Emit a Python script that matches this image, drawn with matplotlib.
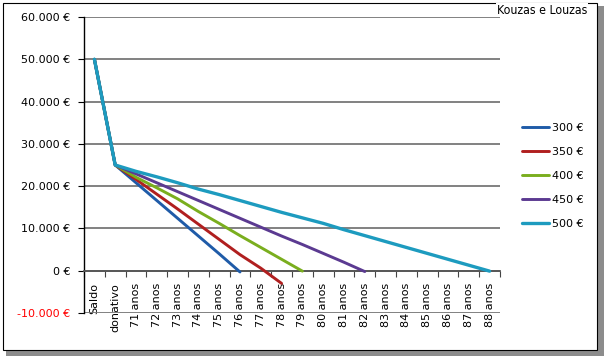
import numpy as np
import matplotlib.pyplot as plt
from matplotlib.patches import Rectangle

# categories on the x axis
cats = ["Saldo", "donativo"] + ["%d anos" % a for a in range(71, 89)]

# balance per monthly amount
s300 = [50000, 25000, 20800, 16600, 12400, 8200, 4000, -300]
s350 = [50000, 25000, 21600, 18100, 14600, 11000, 7400, 3800, 600, -3000]
s400 = [50000, 25000, 22100, 19600, 17000, 14000, 11200, 8300, 5500, 2700, -100]
s450 = [50000, 25000, 22900, 20800, 18700, 16600, 14500, 12400, 10300, 8200,
        6200, 4100, 2000, -200]
s500 = [50000, 25000, 23500, 22200, 20800, 19300, 18000, 16600, 15200, 13800,
        12500, 11200, 9700, 8300, 6900, 5500, 4100, 2700, 1300, -100]

series = [("300 €", s300, "#1f5ba8"), ("350 €", s350, "#b01f1f"),
          ("400 €", s400, "#7aae1e"), ("450 €", s450, "#5b3a91"),
          ("500 €", s500, "#1d9bbf")]

fig = plt.figure(figsize=(6.04, 3.56), dpi=100)
W, H = 604, 356

# frame with shadow
fig.patches.append(Rectangle((6 / W, 0), 598 / W, 350 / H, transform=fig.transFigure,
                             facecolor="#8c8c8c", edgecolor="none", zorder=-3))
fig.patches.append(Rectangle((2.5 / W, 6 / H), 594.5 / W, 347.5 / H, transform=fig.transFigure,
                             facecolor="white", edgecolor="black", lw=0.8, zorder=-2))

ax = fig.add_axes([84 / W, 43 / H, 416 / W, 296 / H])
ax.set_facecolor("none")

x = np.arange(len(cats))
for name, vals, col in series:
    lw = 2.4 if name == "500 €" else 2.1
    ax.plot(x[:len(vals)], vals, color=col, lw=lw, label=name, solid_capstyle="round",
            zorder=3)

ax.set_xlim(-0.5, len(cats) - 0.5)
ax.set_ylim(-10000, 60000)
ax.set_yticks(np.arange(-10000, 60001, 10000))
ax.set_yticklabels(["-10.000 €", "0 €", "10.000 €", "20.000 €", "30.000 €",
                    "40.000 €", "50.000 €", "60.000 €"], fontsize=8)
ax.get_yticklabels()[0].set_color("red")
ax.yaxis.grid(True, color="#777777", lw=1.3)
ax.set_axisbelow(True)

ax.set_xticks(np.arange(-0.5, len(cats), 1))
ax.set_xticklabels([])
ax.set_xticks(x, minor=True)
ax.set_xticklabels(cats, minor=True)
ax.tick_params(axis="x", which="major", length=4, color="#444444", direction="out")
ax.tick_params(axis="x", which="minor", length=0, pad=9, labelrotation=90, labelsize=8)
for t in ax.get_xticklabels(minor=True):
    t.set_va("top")
    t.set_ha("center")
ax.tick_params(axis="y", length=4, pad=6)

ax.spines["top"].set_visible(False)
ax.spines["right"].set_visible(False)
ax.spines["bottom"].set_position(("data", 0))
ax.spines["bottom"].set_color("#555555")
ax.spines["bottom"].set_linewidth(1.3)
ax.spines["left"].set_linewidth(1.0)

fig.legend(loc="center left", bbox_to_anchor=(516 / W, 1 - 176 / H), frameon=False,
           fontsize=8, handlelength=2.5, handletextpad=0.2, labelspacing=1.25,
           borderpad=0)

fig.text(587 / W, 1 - 10 / H, "Kouzas e Louzas", ha="right", va="center",
         fontsize=8.8, family="DejaVu Sans", fontstretch="condensed",
         fontweight="light",
         bbox=dict(facecolor="white", edgecolor="none", pad=0.5), zorder=5)

fig.savefig("out.png", dpi=100)
